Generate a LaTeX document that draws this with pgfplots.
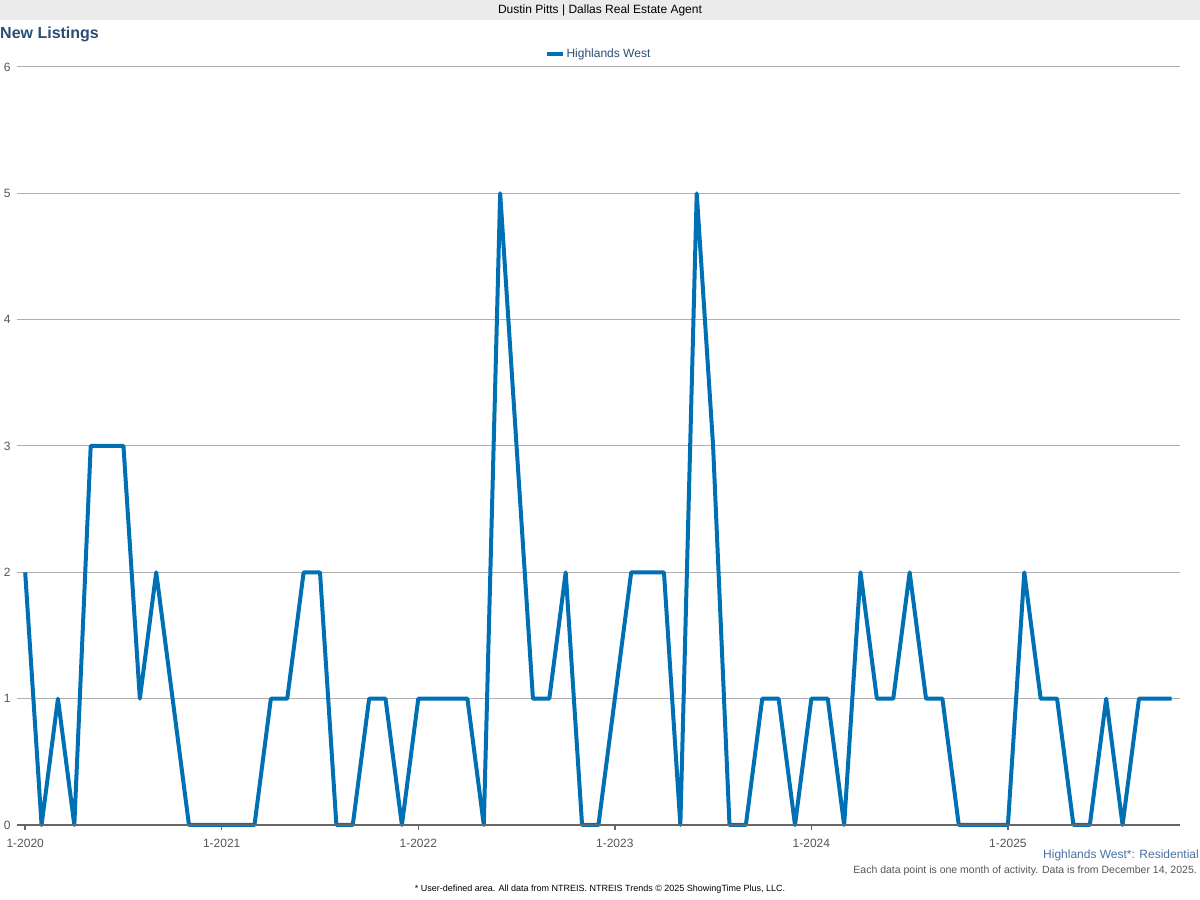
\documentclass[border=0pt]{standalone}
\usepackage{pgfplots}
\pgfplotsset{compat=1.18}
\usepackage{fontspec}
\setmainfont{Liberation Sans}
\definecolor{linecol}{RGB}{0,112,180}
\definecolor{titlecol}{RGB}{42,77,116}
\definecolor{subcol}{RGB}{74,111,165}
\definecolor{gridcol}{RGB}{176,176,176}
\definecolor{axiscol}{RGB}{102,102,102}
\definecolor{ticklab}{RGB}{85,85,85}
\definecolor{barcol}{RGB}{235,235,235}
\begin{document}
\begin{tikzpicture}[x=1pt,y=1pt]
\path[use as bounding box] (0,0) rectangle (1200,900);
\fill[barcol] (0,880) rectangle (1200,900);
\node[font=\fontsize{12}{14}\selectfont, text=black] at (600,890) {Dustin Pitts | Dallas Real Estate Agent};
\node[anchor=west, font=\fontsize{16}{18}\selectfont\bfseries, text=titlecol, inner sep=0pt] at (0,866) {New Listings};
\begin{axis}[
  at={(17pt,75pt)}, anchor=south west,
  scale only axis, width=1163pt, height=758pt,
  xmin=-0.5, xmax=70.5, ymin=0, ymax=6,
  axis line style={draw=none},
  axis x line*=bottom, axis y line*=left,
  xtick={0,12,24,36,48,60},
  xticklabels={1-2020,1-2021,1-2022,1-2023,1-2024,1-2025},
  ytick={0,1,2,3,4,5,6},
  ymajorgrids, grid style={gridcol, line width=1pt},
  tick align=outside,
  major tick length=5pt,
  xtick style={axiscol, line width=1.5pt},
  ytick style={draw=none},
  x tick label style={font=\fontsize{12}{14}\selectfont, text=ticklab, yshift=-6pt},
  y tick label style={font=\fontsize{12}{14}\selectfont, text=ticklab, xshift=2pt},
  /pgf/number format/assume math mode=true,
  clip=false,
  legend style={at={(0.5,1)}, anchor=south, yshift=6pt, draw=none, fill=none,
    font=\fontsize{12}{14}\selectfont, text=titlecol, inner sep=0pt},
  legend image code/.code={\draw[#1, line width=4pt] (0pt,0pt) -- (16pt,0pt);},
]
\addplot[linecol, line width=4pt, line join=round, mark=none] table[row sep=\\] {
x y\\
0 2\\ 1 0\\ 2 1\\ 3 0\\ 4 3\\ 5 3\\ 6 3\\ 7 1\\ 8 2\\ 9 1\\
10 0\\ 11 0\\ 12 0\\ 13 0\\ 14 0\\ 15 1\\ 16 1\\ 17 2\\ 18 2\\ 19 0\\
20 0\\ 21 1\\ 22 1\\ 23 0\\ 24 1\\ 25 1\\ 26 1\\ 27 1\\ 28 0\\ 29 5\\
30 3\\ 31 1\\ 32 1\\ 33 2\\ 34 0\\ 35 0\\ 36 1\\ 37 2\\ 38 2\\ 39 2\\
40 0\\ 41 5\\ 42 3\\ 43 0\\ 44 0\\ 45 1\\ 46 1\\ 47 0\\ 48 1\\ 49 1\\
50 0\\ 51 2\\ 52 1\\ 53 1\\ 54 2\\ 55 1\\ 56 1\\ 57 0\\ 58 0\\ 59 0\\
60 0\\ 61 2\\ 62 1\\ 63 1\\ 64 0\\ 65 0\\ 66 1\\ 67 0\\ 68 1\\ 69 1\\
70 1\\
};
\addlegendentry{Highlands West}
\draw[axiscol, line width=2.5pt] (axis cs:-0.5,0) -- (axis cs:70.5,0);
\end{axis}
\node[anchor=east, font=\fontsize{12}{14}\selectfont, text=subcol, inner sep=0pt] at (1199,45) {Highlands West*: Residential};
\node[anchor=east, font=\fontsize{10.5}{12}\selectfont, text=ticklab, inner sep=0pt] at (1197,29) {Each data point is one month of activity. Data is from December 14, 2025.};
\node[font=\fontsize{9}{11}\selectfont, text=black, inner sep=0pt] at (600,11) {* User-defined area. All data from NTREIS. NTREIS Trends © 2025 ShowingTime Plus, LLC.};
\end{tikzpicture}
\end{document}
